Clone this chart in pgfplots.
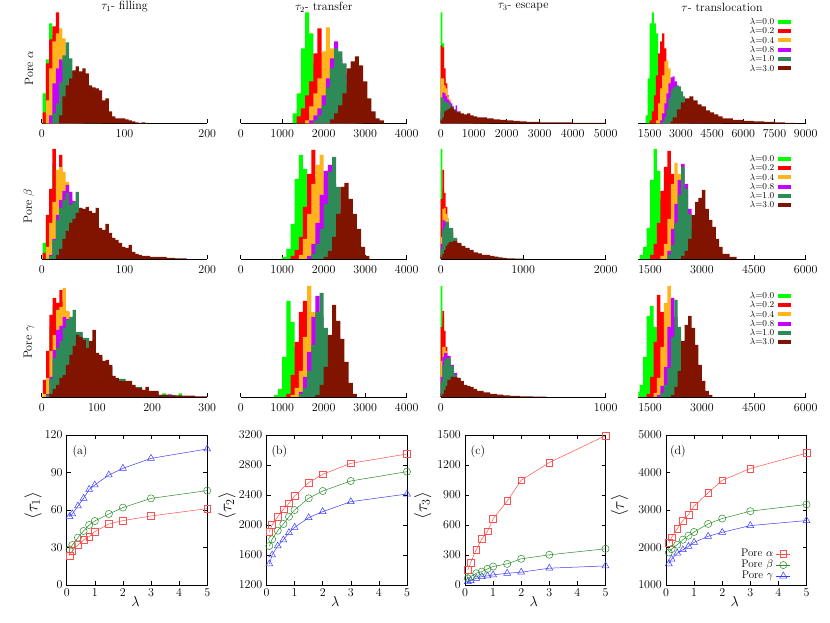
\documentclass[12pt,border=0pt]{standalone}
\usepackage{pgfplots}
\pgfplotsset{compat=1.18}
\definecolor{hA}{RGB}{0,255,0}
\definecolor{hB}{RGB}{255,0,0}
\definecolor{hC}{RGB}{255,180,30}
\definecolor{hD}{RGB}{200,0,255}
\definecolor{hE}{RGB}{46,139,87}
\definecolor{hF}{RGB}{128,20,0}
\definecolor{lR}{RGB}{255,80,80}
\definecolor{lG}{RGB}{40,140,40}
\definecolor{lB}{RGB}{60,60,255}
\pgfplotsset{
 H/.style={const plot mark left, fill=#1, draw=none, mark=none},
 hist/.style={scale only axis, width=#1, height=111pt, ymin=0, ymax=111,
   axis x line=bottom, axis y line=none,
   every outer x axis line/.append style={-},
   x axis line style={-, line width=0.7pt},
   tick align=inside, major tick length=4pt,
   xtick style={black, line width=0.6pt},
   ytick=\empty,
   xticklabel style={yshift=-2.5pt},
   scaled x ticks=false,
   /pgf/number format/1000 sep={}},
 hleg/.style={legend plot pos=right, legend cell align=right,
   legend image code/.code={\fill[##1] (0pt,-2pt) rectangle (13pt,2pt);},
   legend style={draw=none, fill=none, at={(0.912,#1)}, anchor=north east,
     font=\fontsize{9}{10}\selectfont, inner sep=0pt, row sep=1.8pt, column sep=3pt,
     nodes={inner sep=0.5pt, text height=6pt, text depth=0.5pt}}},
 lp/.style={scale only axis, width=140.5pt, height=150pt, xmin=0, xmax=5, xtick={0,1,2,3,4,5},
   tick align=inside, major tick length=4pt, tick pos=both,
   axis line style={line width=0.7pt}, tick style={black, line width=0.5pt},
   scaled y ticks=false, /pgf/number format/1000 sep={},
   xlabel={$\lambda$}, xlabel style={at={(axis description cs:0.49,-0.11)}, anchor=center, font=\large},
   ylabel style={at={(axis description cs:#1,0.53)}, anchor=center, font=\Large}},
 sR/.style={color=lR, line width=0.5pt, mark=square, mark size=3.4pt, mark options={solid}},
 sG/.style={color=lG, line width=0.5pt, mark=o, mark size=3.6pt, mark options={solid}},
 sB/.style={color=lB, line width=0.5pt, mark=triangle, mark size=4pt, mark options={solid}},
}
\begin{document}
\begin{tikzpicture}
\useasboundingbox (0pt,0pt) rectangle (830pt,623pt);
% titles
\node at (124.5pt,616pt) {$\tau_1$- filling};
\node at (323.7pt,616pt) {$\tau_2$- transfer};
\node at (523.2pt,616pt) {$\tau_3$- escape};
\node at (722pt,616pt) {$\tau$- translocation};
\node[rotate=90] at (29pt,555pt) {Pore $\alpha$};
\node[rotate=90] at (29pt,417pt) {Pore $\beta$};
\node[rotate=90] at (29pt,281pt) {Pore $\gamma$};

% ===== Row 1 =====
\begin{axis}[hist=165.6pt, at={(41.7pt,499.7pt)}, xmin=0, xmax=200, xtick={0,100,200}]
\addplot[H=hA] coordinates {(1,30)(5,64)(9,100)(13,88)(17,70)(21,45)(25,25)(29,12)(33,6)(37,3)(41,0)} \closedcycle;
\addplot[H=hB] coordinates {(1,11)(5,60)(9,84)(13,97)(17,111)(21,80)(25,55)(29,35)(33,20)(37,10)(41,5)(45,0)} \closedcycle;
\addplot[H=hC] coordinates {(5,23)(9,55)(13,82)(17,90)(21,95)(25,85)(29,55)(33,35)(37,20)(41,10)(45,4)(49,0)} \closedcycle;
\addplot[H=hD] coordinates {(9,8)(13,40)(17,55)(21,64)(25,62)(29,60)(33,50)(37,35)(41,22)(45,12)(49,6)(53,0)} \closedcycle;
\addplot[H=hE] coordinates {(13,10)(17,20)(21,41)(25,68)(29,81)(33,65)(37,52)(41,50)(45,45)(49,35)(53,25)(57,15)(61,8)(65,4)(69,2)(73,0)} \closedcycle;
\addplot[H=hF] coordinates {(21,8)(25,27)(29,38)(33,45)(37,53)(41,57)(45,52)(49,55)(53,50)(57,38)(61,36)(65,35)(69,33)(73,23)(77,25)(81,12)(85,7)(89,5)(93,5)(97,5)(101,4)(105,3)(109,2)(113,1)(117,0.5)(121,1)(125,0.5)(129,0)} \closedcycle;
\end{axis}

\begin{axis}[hist=166pt, at={(240.7pt,499.7pt)}, xmin=0, xmax=4000, xtick={0,1000,2000,3000,4000}]
\addplot[H=hA] coordinates {(1250,10)(1350,30)(1450,75)(1550,111)(1650,90)(1750,60)(1850,35)(1950,15)(2050,5)(2150,0)} \closedcycle;
\addplot[H=hB] coordinates {(1350,7)(1450,15)(1550,28)(1650,42)(1750,70)(1850,95)(1950,70)(2050,45)(2150,25)(2250,12)(2350,5)(2450,0)} \closedcycle;
\addplot[H=hC] coordinates {(1550,3)(1650,17)(1750,30)(1850,45)(1950,72)(2050,96)(2150,75)(2250,55)(2350,35)(2450,20)(2550,8)(2650,3)(2750,0)} \closedcycle;
\addplot[H=hD] coordinates {(1650,3)(1750,8)(1850,15)(1950,28)(2050,45)(2150,65)(2250,82)(2350,65)(2450,50)(2550,30)(2650,15)(2750,6)(2850,0)} \closedcycle;
\addplot[H=hE] coordinates {(1750,3)(1850,8)(1950,18)(2050,36)(2150,55)(2250,75)(2350,72)(2450,60)(2550,40)(2650,25)(2750,12)(2850,5)(2950,0)} \closedcycle;
\addplot[H=hF] coordinates {(2150,4)(2250,10)(2350,18)(2450,30)(2550,55)(2650,62)(2750,67)(2850,58)(2950,42)(3050,25)(3150,12)(3250,5)(3350,3)(3450,0)} \closedcycle;
\end{axis}

\begin{axis}[hist=165pt, at={(440.7pt,499.7pt)}, xmin=0, xmax=5000, xtick={0,1000,...,5000}]
\addplot[H=hA] coordinates {(0,111)(50,80)(100,45)(150,25)(200,14)(250,8)(300,4)(400,2)(500,1)(600,0)} \closedcycle;
\addplot[H=hB] coordinates {(0,78)(50,76)(100,55)(150,40)(200,28)(250,20)(300,14)(350,10)(400,7)(500,4)(600,2)(800,0)} \closedcycle;
\addplot[H=hC] coordinates {(0,45)(50,45)(100,38)(150,35)(200,27)(250,24)(300,18)(350,14)(400,10)(450,8)(500,5)(600,3)(800,1)(1000,0)} \closedcycle;
\addplot[H=hD] coordinates {(0,12)(50,31)(100,30)(150,27)(200,24)(250,22)(300,20)(350,17)(400,14)(450,18)(500,12)(550,9)(600,5)(800,3)(1000,1.5)(1200,0)} \closedcycle;
\addplot[H=hE] coordinates {(0,26)(50,25)(100,22)(150,21)(200,21)(250,19)(300,17)(350,16)(400,14)(450,12)(500,10)(550,9)(600,7)(700,5)(800,3.5)(1000,2)(1200,1)(1500,0)} \closedcycle;
\addplot[H=hF] coordinates {(0,3)(50,6)(100,12)(150,13)(200,14)(250,15)(300,17)(350,15)(400,13)(450,12)(500,11)(550,12)(600,10)(700,9)(800,10)(900,8)(1000,7)(1100,6)(1200,6)(1400,5)(1600,4)(1800,3.5)(2000,3)(2200,2.5)(2400,2)(2600,1.5)(3000,1)(3500,0.8)(4000,0.5)(5000,0)} \closedcycle;
\end{axis}

\begin{axis}[hist=167.4pt, at={(638.3pt,499.7pt)}, xmin=950, xmax=9000, xtick={1500,3000,...,9000}, hleg=0.95]
\addplot[H=hA] coordinates {(1300,8)(1400,45)(1500,100)(1600,111)(1700,100)(1800,90)(1900,65)(2000,30)(2100,15)(2200,5)(2400,2)(2600,0)} \closedcycle;
\addlegendentry{$\lambda$=0.0}
\addplot[H=hB] coordinates {(1500,3)(1600,12)(1700,28)(1800,48)(1900,70)(2000,82)(2100,90)(2200,75)(2300,55)(2400,35)(2500,20)(2600,8)(2800,3)(3000,0)} \closedcycle;
\addlegendentry{$\lambda$=0.2}
\addplot[H=hC] coordinates {(1800,3)(1900,20)(2000,35)(2100,48)(2200,62)(2300,63)(2400,55)(2500,42)(2600,28)(2800,15)(3000,7)(3200,3)(3400,0)} \closedcycle;
\addlegendentry{$\lambda$=0.4}
\addplot[H=hD] coordinates {(2000,3)(2100,10)(2200,20)(2300,30)(2400,40)(2500,46)(2600,47)(2700,42)(2800,30)(3000,18)(3200,10)(3400,5)(3600,2)(4000,0)} \closedcycle;
\addlegendentry{$\lambda$=0.8}
\addplot[H=hE] coordinates {(2100,2)(2200,6)(2300,14)(2400,25)(2500,33)(2600,36)(2700,37)(2800,38)(2900,37)(3000,32)(3100,27)(3200,20)(3400,14)(3600,9)(3800,6)(4000,3)(4500,1)(5000,0)} \closedcycle;
\addlegendentry{$\lambda$=1.0}
\addplot[H=hF] coordinates {(2500,2)(2600,6)(2800,14)(3000,21)(3200,25)(3400,27)(3600,23)(3800,19)(4000,17)(4200,13)(4400,11)(4600,9)(4800,7)(5000,5)(5500,3.5)(6000,2.5)(6500,2)(7000,1.5)(7500,1)(8000,0.5)(8500,0)} \closedcycle;
\addlegendentry{$\lambda$=3.0}
\end{axis}

% ===== Row 2 =====
\begin{axis}[hist=165.6pt, at={(41.7pt,364pt)}, xmin=0, xmax=200, xtick={0,100,200}]
\addplot[H=hA] coordinates {(1,16)(5,40)(9,60)(13,95)(17,80)(21,60)(25,35)(29,18)(33,8)(37,3)(41,0)} \closedcycle;
\addplot[H=hB] coordinates {(1,6)(5,44)(9,70)(13,110)(17,80)(21,104)(25,75)(29,50)(33,30)(37,18)(41,10)(45,5)(49,2)(53,0)} \closedcycle;
\addplot[H=hC] coordinates {(5,12)(9,36)(13,57)(17,89)(21,92)(25,87)(29,77)(33,60)(37,42)(41,28)(45,16)(49,8)(53,4)(57,0)} \closedcycle;
\addplot[H=hD] coordinates {(9,4)(13,20)(17,44)(21,59)(25,68)(29,74)(33,67)(37,58)(41,45)(45,32)(49,20)(53,12)(57,6)(61,3)(65,0)} \closedcycle;
\addplot[H=hE] coordinates {(9,3)(13,19)(17,39)(21,51)(25,59)(29,66)(33,54)(37,57)(41,67)(45,51)(49,42)(53,32)(57,24)(61,17)(65,12)(69,8)(73,5)(77,3)(81,1)(89,0)} \closedcycle;
\addplot[H=hF] coordinates {(17,4)(21,10)(25,20)(29,28)(33,36)(37,40)(41,46)(45,51)(49,50)(53,52)(57,48)(61,46)(65,51)(69,31)(73,29)(77,35)(81,26)(85,21)(89,19)(93,16)(97,12)(101,11)(105,14)(109,7)(113,5)(117,4)(121,3)(131,2)(151,1)(161,0.7)(175,0)} \closedcycle;
\end{axis}

\begin{axis}[hist=166pt, at={(240.7pt,364pt)}, xmin=0, xmax=4000, xtick={0,1000,2000,3000,4000}]
\addplot[H=hA] coordinates {(1000,2)(1100,10)(1200,35)(1300,80)(1400,104)(1500,90)(1600,60)(1700,30)(1800,12)(1900,4)(2000,0)} \closedcycle;
\addplot[H=hB] coordinates {(1200,3)(1300,9)(1400,22)(1500,52)(1600,85)(1700,109)(1800,80)(1900,50)(2000,25)(2100,10)(2200,4)(2300,0)} \closedcycle;
\addplot[H=hC] coordinates {(1400,4)(1500,20)(1600,45)(1700,75)(1800,94)(1900,104)(2000,80)(2100,55)(2200,30)(2300,14)(2400,5)(2500,0)} \closedcycle;
\addplot[H=hD] coordinates {(1600,3)(1700,15)(1800,36)(1900,64)(2000,88)(2100,94)(2200,75)(2300,50)(2400,28)(2500,12)(2600,5)(2700,0)} \closedcycle;
\addplot[H=hE] coordinates {(1700,5)(1800,15)(1900,30)(2000,55)(2100,87)(2200,102)(2300,72)(2400,45)(2500,25)(2600,12)(2700,5)(2800,0)} \closedcycle;
\addplot[H=hF] coordinates {(2000,2)(2100,8)(2200,22)(2300,45)(2400,72)(2500,76)(2600,60)(2700,45)(2800,30)(2900,12)(3000,3)(3100,0)} \closedcycle;
\end{axis}

\begin{axis}[hist=165pt, at={(440.7pt,364pt)}, xmin=0, xmax=2000, xtick={0,1000,2000}]
\addplot[H=hA] coordinates {(0,110)(20,70)(40,40)(60,22)(80,12)(100,5)(150,2)(200,0)} \closedcycle;
\addplot[H=hB] coordinates {(0,60)(20,89)(40,66)(60,52)(80,38)(100,26)(150,15)(200,9)(250,5)(300,2)(400,0)} \closedcycle;
\addplot[H=hC] coordinates {(0,22)(20,50)(40,51)(60,45)(80,41)(100,30)(150,20)(200,13)(250,8)(300,4)(400,1)(500,0)} \closedcycle;
\addplot[H=hD] coordinates {(0,15)(20,39)(40,38)(60,36)(80,34)(100,28)(150,20)(200,14)(250,9)(300,5)(400,2)(500,0)} \closedcycle;
\addplot[H=hE] coordinates {(0,10)(20,29)(40,33)(60,37)(80,37)(100,31)(150,21)(200,15)(250,11)(300,7)(400,4)(500,2)(600,0)} \closedcycle;
\addplot[H=hF] coordinates {(0,2)(20,5)(40,9)(60,13)(80,15)(100,17)(150,18)(200,16)(250,13)(300,11)(350,9)(400,6.5)(450,5.5)(500,4)(550,4)(600,3)(650,2.3)(700,1.5)(750,1)(800,0.5)(900,0.3)(1000,0)} \closedcycle;
\end{axis}

\begin{axis}[hist=167.4pt, at={(638.3pt,364pt)}, xmin=1160, xmax=6000, xtick={1500,3000,4500,6000}, hleg=0.939]
\addplot[H=hA] coordinates {(1200,4)(1300,12)(1400,31)(1500,79)(1600,110)(1700,88)(1800,60)(1900,35)(2000,15)(2200,5)(2400,0)} \closedcycle;
\addlegendentry{$\lambda$=0.0}
\addplot[H=hB] coordinates {(1500,4)(1600,15)(1700,36)(1800,68)(1900,92)(2000,108)(2100,85)(2200,55)(2300,30)(2400,12)(2600,4)(2800,0)} \closedcycle;
\addlegendentry{$\lambda$=0.2}
\addplot[H=hC] coordinates {(1800,3)(1900,15)(2000,40)(2100,75)(2200,96)(2300,85)(2400,60)(2500,38)(2600,18)(2800,6)(3000,0)} \closedcycle;
\addlegendentry{$\lambda$=0.4}
\addplot[H=hD] coordinates {(2000,8)(2100,30)(2200,55)(2300,79)(2400,95)(2500,75)(2600,50)(2700,30)(2800,14)(3000,4)(3200,0)} \closedcycle;
\addlegendentry{$\lambda$=0.8}
\addplot[H=hE] coordinates {(2000,4)(2100,14)(2200,36)(2300,64)(2400,92)(2500,70)(2600,45)(2700,30)(2800,15)(3000,6)(3200,2)(3400,0)} \closedcycle;
\addlegendentry{$\lambda$=1.0}
\addplot[H=hF] coordinates {(2400,3)(2500,8)(2600,20)(2700,44)(2800,57)(2900,61)(3000,69)(3100,50)(3200,39)(3300,32)(3400,20)(3500,12)(3600,5)(3800,2)(4000,0)} \closedcycle;
\addlegendentry{$\lambda$=3.0}
\end{axis}

% ===== Row 3 =====
\begin{axis}[hist=165.6pt, at={(41.7pt,226pt)}, xmin=0, xmax=300, xtick={0,100,200,300}]
\addplot[H=hA] coordinates {(2,10)(8,40)(14,70)(20,90)(26,88)(32,80)(38,65)(44,50)(50,40)(56,30)(62,22)(74,15)(86,10)(104,6)(122,4)(152,3)(182,2)(212,1)(218,3.5)(226,0.5)(248,3.5)(254,0)} \closedcycle;
\addplot[H=hB] coordinates {(2,17)(8,46)(14,82)(20,99)(26,94)(32,107)(38,95)(44,85)(50,60)(56,45)(62,32)(74,22)(86,16)(98,12)(110,8)(128,5)(152,3)(182,2)(212,0.5)(242,0)} \closedcycle;
\addplot[H=hC] coordinates {(2,3)(8,19)(14,46)(20,62)(26,87)(32,90)(38,109)(44,86)(50,70)(56,55)(62,42)(74,30)(86,22)(98,16)(110,11)(128,6)(152,3)(182,2)(212,1)(242,0)} \closedcycle;
\addplot[H=hD] coordinates {(8,3)(14,20)(20,47)(26,67)(32,71)(38,80)(44,78)(50,72)(56,65)(62,64)(74,50)(86,38)(98,28)(110,18)(128,10)(152,5)(182,3)(212,1)(228,2.5)(236,0.5)(250,0)} \closedcycle;
\addplot[H=hE] coordinates {(8,2)(14,18)(20,39)(26,49)(32,56)(38,69)(44,77)(50,80)(56,87)(62,65)(74,59)(86,50)(98,40)(110,30)(128,18)(152,10)(182,5)(212,2)(242,0)} \closedcycle;
\addplot[H=hF] coordinates {(14,3)(20,8)(26,12)(32,19)(38,22)(44,32)(50,42)(56,51)(62,62)(68,60)(74,57)(80,49)(86,56)(92,67)(98,44)(104,42)(110,36)(116,37)(122,32)(128,21)(134,19)(140,16)(164,12)(170,9)(182,7)(188,10)(194,6)(212,2)(230,1.7)(254,1.3)(278,0.5)(300,0)} \closedcycle;
\end{axis}

\begin{axis}[hist=166pt, at={(240.7pt,226pt)}, xmin=0, xmax=4000, xtick={0,1000,2000,3000,4000}]
\addplot[H=hA] coordinates {(800,2)(900,8)(1000,40)(1100,96)(1200,75)(1300,50)(1400,28)(1500,12)(1600,4)(1700,0)} \closedcycle;
\addplot[H=hB] coordinates {(1100,3)(1200,22)(1300,55)(1400,85)(1500,96)(1600,80)(1700,55)(1800,30)(1900,12)(2000,4)(2100,0)} \closedcycle;
\addplot[H=hC] coordinates {(1200,2)(1300,9)(1400,26)(1500,60)(1600,111)(1700,85)(1800,60)(1900,35)(2000,15)(2100,5)(2200,0)} \closedcycle;
\addplot[H=hD] coordinates {(1400,5)(1500,20)(1600,45)(1700,80)(1800,101)(1900,80)(2000,50)(2100,25)(2200,10)(2300,3)(2400,0)} \closedcycle;
\addplot[H=hE] coordinates {(1400,3)(1500,9)(1600,26)(1700,52)(1800,85)(1900,104)(2000,69)(2100,45)(2200,25)(2300,12)(2400,4)(2500,0)} \closedcycle;
\addplot[H=hF] coordinates {(1800,2)(1900,12)(2000,30)(2100,62)(2200,92)(2300,76)(2400,58)(2500,35)(2600,14)(2700,3)(2800,0)} \closedcycle;
\end{axis}

\begin{axis}[hist=165pt, at={(440.7pt,226pt)}, xmin=0, xmax=1000, xtick={0,1000}]
\addplot[H=hA] coordinates {(0,111)(10,80)(20,45)(30,25)(40,12)(60,5)(80,2)(100,0)} \closedcycle;
\addplot[H=hB] coordinates {(0,70)(10,86)(20,66)(30,50)(40,35)(60,22)(80,14)(100,7)(140,3)(180,1)(220,0)} \closedcycle;
\addplot[H=hC] coordinates {(0,36)(10,50)(20,50)(30,46)(40,38)(60,28)(80,20)(100,12)(140,6)(180,3)(220,1)(260,0)} \closedcycle;
\addplot[H=hD] coordinates {(0,20)(10,40)(20,44)(30,44)(40,41)(60,32)(80,24)(100,15)(140,8)(180,4)(220,1.5)(260,0)} \closedcycle;
\addplot[H=hE] coordinates {(0,15)(10,31)(20,37)(30,39)(40,39)(60,31)(80,22)(100,19)(120,14)(140,9)(180,5)(220,2.5)(260,1)(300,0)} \closedcycle;
\addplot[H=hF] coordinates {(0,1)(10,3)(20,7)(30,11)(40,17)(60,20)(80,20)(100,19)(120,16)(140,12)(160,11)(180,10)(200,8)(220,6)(260,4.5)(300,3)(340,2.3)(380,1.5)(420,1.2)(480,0.7)(560,0.3)(640,0)} \closedcycle;
\end{axis}

\begin{axis}[hist=167.4pt, at={(638.3pt,226pt)}, xmin=1160, xmax=6000, xtick={1500,3000,4500,6000}, hleg=0.948]
\addplot[H=hA] coordinates {(1160,5)(1200,12)(1300,40)(1400,81)(1500,91)(1600,70)(1700,45)(1800,22)(1900,8)(2000,3)(2100,0)} \closedcycle;
\addlegendentry{$\lambda$=0.0}
\addplot[H=hB] coordinates {(1400,3)(1500,20)(1600,55)(1700,102)(1800,85)(1900,60)(2000,35)(2100,16)(2200,6)(2300,2)(2400,0)} \closedcycle;
\addlegendentry{$\lambda$=0.2}
\addplot[H=hC] coordinates {(1600,4)(1700,19)(1800,50)(1900,94)(2000,111)(2100,80)(2200,50)(2300,25)(2400,10)(2500,3)(2600,0)} \closedcycle;
\addlegendentry{$\lambda$=0.4}
\addplot[H=hD] coordinates {(1700,2)(1800,11)(1900,30)(2000,70)(2100,99)(2200,80)(2300,50)(2400,25)(2500,10)(2600,3)(2700,0)} \closedcycle;
\addlegendentry{$\lambda$=0.8}
\addplot[H=hE] coordinates {(1800,4)(1900,12)(2000,29)(2100,60)(2200,97)(2300,70)(2400,45)(2500,25)(2600,12)(2700,4)(2800,0)} \closedcycle;
\addlegendentry{$\lambda$=1.0}
\addplot[H=hF] coordinates {(2100,2)(2200,10)(2300,26)(2400,56)(2500,72)(2600,81)(2700,69)(2800,52)(2900,32)(3000,16)(3100,6)(3200,2)(3300,0)} \closedcycle;
\addlegendentry{$\lambda$=3.0}
\end{axis}

% ===== Row 4: mean times =====
\begin{axis}[lp=-0.24, at={(66.7pt,38pt)}, ymin=0, ymax=120, ytick={0,30,60,90,120}, ylabel={$\langle\tau_1\rangle$}]
\addplot[sB] coordinates {(0.1,54.7)(0.2,56.8)(0.4,63.2)(0.6,69.3)(0.8,76.5)(1,80)(1.5,88)(2,93.3)(3,101.3)(5,108.8)};
\addplot[sG] coordinates {(0.1,28.5)(0.2,32)(0.4,37.9)(0.6,43.2)(0.8,48)(1,51.2)(1.5,56.8)(2,61.9)(3,69.3)(5,75.5)};
\addplot[sR] coordinates {(0.1,23.5)(0.2,27.2)(0.4,32)(0.6,36)(0.8,38.7)(1,42.7)(1.5,48.8)(2,51.5)(3,55.2)(5,61.1)};
\node at (rel axis cs:0.095,0.887) {(a)};
\end{axis}

\begin{axis}[lp=-0.28, at={(266.5pt,38pt)}, ymin=1200, ymax=3200, ytick={1200,1600,...,3200}, ylabel={$\langle\tau_2\rangle$}]
\addplot[sB] coordinates {(0.1,1480)(0.2,1600)(0.4,1720)(0.6,1800)(0.8,1898)(1,1969)(1.5,2098)(2,2178)(3,2311)(5,2413)};
\addplot[sG] coordinates {(0.1,1720)(0.2,1809)(0.4,1924)(0.6,2013)(0.8,2111)(1,2200)(1.5,2356)(2,2453)(3,2587)(5,2711)};
\addplot[sR] coordinates {(0.1,1911)(0.2,2000)(0.4,2111)(0.6,2209)(0.8,2289)(1,2387)(1.5,2564)(2,2676)(3,2822)(5,2947)};
\node at (rel axis cs:0.092,0.887) {(b)};
\end{axis}

\begin{axis}[lp=-0.30, at={(465pt,38pt)}, ymin=0, ymax=1500, ytick={0,300,...,1500}, ylabel={$\langle\tau_3\rangle$}]
\addplot[sB] coordinates {(0.1,34)(0.2,44)(0.4,67)(0.6,84)(0.8,91)(1,101)(1.5,117)(2,128)(3,168)(5,191)};
\addplot[sG] coordinates {(0.1,67)(0.2,84)(0.4,117)(0.6,134)(0.8,161)(1,185)(1.5,211)(2,262)(3,302)(5,362)};
\addplot[sR] coordinates {(0.1,151)(0.2,225)(0.4,352)(0.6,460)(0.8,537)(1,661)(1.5,839)(2,1047)(3,1225)(5,1493)};
\node at (rel axis cs:0.092,0.887) {(c)};
\end{axis}

\begin{axis}[lp=-0.33, at={(666pt,38pt)}, ymin=1000, ymax=5000, ytick={1000,2000,...,5000}, ylabel={$\langle\tau\rangle$},
  legend plot pos=right, legend cell align=right,
  legend image code/.code={\draw[mark repeat=2,mark phase=2,#1] plot coordinates {(0pt,0pt) (7pt,0pt) (14pt,0pt)};},
  legend style={draw=none, fill=none, at={(0.888,0.025)}, anchor=south east, inner sep=0pt, row sep=1pt, column sep=3pt,
    font=\fontsize{11}{12}\selectfont,
    nodes={inner sep=0pt, text height=7.5pt, text depth=2.5pt}}]
\addplot[sR] coordinates {(0.1,2119)(0.2,2271)(0.4,2504)(0.6,2718)(0.8,2880)(1,3103)(1.5,3461)(2,3792)(3,4106)(5,4517)};
\addlegendentry{Pore $\alpha$}
\addplot[sG] coordinates {(0.1,1868)(0.2,1958)(0.4,2074)(0.6,2208)(0.8,2316)(1,2414)(1.5,2629)(2,2772)(3,2969)(5,3148)};
\addlegendentry{Pore $\beta$}
\addplot[sB] coordinates {(0.1,1564)(0.2,1689)(0.4,1850)(0.6,1940)(0.8,2029)(1,2137)(1.5,2298)(2,2405)(3,2584)(5,2718)};
\addlegendentry{Pore $\gamma$}
\node at (rel axis cs:0.085,0.887) {(d)};
\end{axis}
\end{tikzpicture}
\end{document}
